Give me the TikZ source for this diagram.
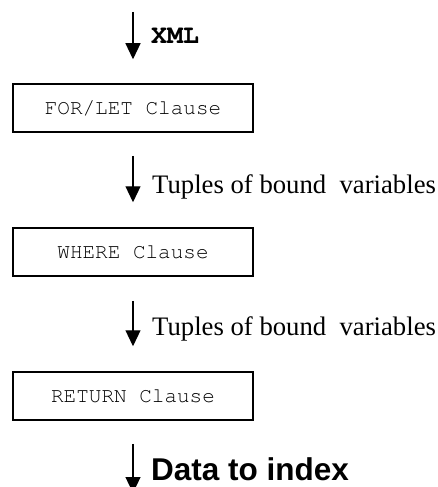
\documentclass[tikz,border=0pt]{standalone}
\usepackage{fontspec}
\setmainfont{Liberation Serif}
\setsansfont{Liberation Sans}
\setmonofont{TeX Gyre Cursor}
\usetikzlibrary{arrows.meta}
\begin{document}
\begin{tikzpicture}[x=1pt,y=-1pt,
  clausebox/.style={draw,line width=1.5pt,minimum width=240pt,minimum height=48pt,inner sep=0pt,
    font=\fontsize{21}{24}\selectfont\ttfamily},
  flow/.style={line width=1.2pt,-{Triangle[width=15pt,length=16pt]}},
  lbl/.style={anchor=base west,inner sep=0pt}]
\useasboundingbox (0,0) rectangle (438,487);
\coordinate (in) at (133,12);
\coordinate (out) at (133,493);
\node[clausebox] (f) at (133,108) {FOR/LET Clause};
\node[clausebox] (w) at (133,252) {WHERE Clause};
\node[clausebox] (r) at (133,396) {RETURN Clause};
\draw[flow,shorten >=24pt] (in) -- (f.north);
\draw[flow,shorten <=23pt,shorten >=25pt] (f.south) -- (w.north);
\draw[flow,shorten <=24pt,shorten >=25pt] (w.south) -- (r.north);
\draw[flow,shorten <=23pt] (r.south) -- (out);
\node[lbl,font=\fontsize{26.5}{30}\selectfont\ttfamily\bfseries] (l0) at (151,44) {XML};
\node[lbl,font=\fontsize{26.7}{30}\selectfont] (l1) at (152,193) {Tuples of bound\ \ variables};
\node[lbl,font=\fontsize{31.5}{34}\selectfont\sffamily\bfseries] (l3) at (151,480.5) {Data to index};
\node[lbl,font=\fontsize{26.7}{30}\selectfont] (l2) at (152,335) {Tuples of bound\ \ variables};
\end{tikzpicture}
\end{document}
